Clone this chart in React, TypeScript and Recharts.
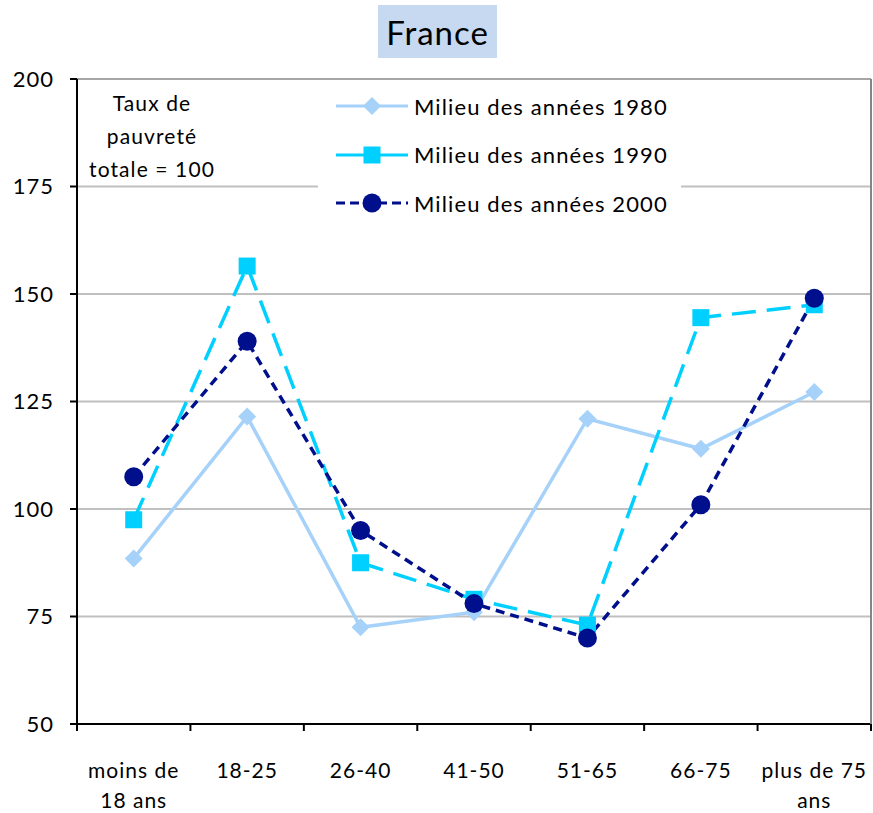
import React from "react";
import {
  CartesianGrid,
  Legend,
  Line,
  LineChart,
  ReferenceLine,
  XAxis,
  YAxis,
} from "recharts";

// valeurs (taux de pauvreté totale = 100)
const CATEGORIES = [
  "moins de 18 ans",
  "18-25",
  "26-40",
  "41-50",
  "51-65",
  "66-75",
  "plus de 75 ans",
];
const CATEGORY_LINES = [
  ["moins de", "18 ans"],
  ["18-25"],
  ["26-40"],
  ["41-50"],
  ["51-65"],
  ["66-75"],
  ["plus de 75", "ans"],
];
const S1980 = [88.5, 121.5, 72.5, 76, 121, 114, 127.2];
const S1990 = [97.5, 156.5, 87.5, 79, 73, 144.5, 147.5];
const S2000 = [107.5, 139, 95, 78, 70, 101, 149];
const Y_TICKS = [50, 75, 100, 125, 150, 175, 200];

const SERIES_NAMES = {
  s1980: "Milieu des années 1980",
  s1990: "Milieu des années 1990",
  s2000: "Milieu des années 2000",
};

const C1980 = "#a6d2fa";
const C1990 = "#00d0ff";
const C2000 = "#000f8c";
const FONT = "Lato, sans-serif";

const W = 873;
const H = 813;
const PLOT_LEFT = 77;
const PLOT_RIGHT = 871;
const AXIS_Y = 724;
const BAND = (PLOT_RIGHT - PLOT_LEFT) / CATEGORIES.length;

const data = CATEGORIES.map((c, i) => ({
  cat: c,
  s1980: S1980[i],
  s1990: S1990[i],
  s2000: S2000[i],
}));

const Diamond = (props: any) => {
  const { cx, cy, fill } = props;
  if (cx == null || cy == null) return null;
  const r = 9;
  return (
    <path
      d={`M${cx},${cy - r} L${cx + r},${cy} L${cx},${cy + r} L${cx - r},${cy} Z`}
      fill={fill}
    />
  );
};

const Square = (props: any) => {
  const { cx, cy, fill } = props;
  if (cx == null || cy == null) return null;
  const s = 8.5;
  return <rect x={cx - s} y={cy - s} width={s * 2} height={s * 2} fill={fill} />;
};

const Circle = (props: any) => {
  const { cx, cy, fill } = props;
  if (cx == null || cy == null) return null;
  return <circle cx={cx} cy={cy} r={9.5} fill={fill} />;
};

const XTick = (props: any) => {
  const { x, index } = props;
  const lines = CATEGORY_LINES[index] || [];
  const left = x - BAND / 2;
  return (
    <g>
      <line x1={left} x2={left} y1={AXIS_Y} y2={AXIS_Y + 7} stroke="#000" strokeWidth={2} />
      {index === CATEGORIES.length - 1 && (
        <line
          x1={x + BAND / 2}
          x2={x + BAND / 2}
          y1={AXIS_Y}
          y2={AXIS_Y + 7}
          stroke="#000"
          strokeWidth={2}
        />
      )}
      <text
        x={x}
        y={AXIS_Y + 54}
        textAnchor="middle"
        fontSize={21}
        fontFamily={FONT}
        letterSpacing={1}
        fill="#000"
      >
        {lines.map((l, i) => (
          <tspan key={i} x={x} dy={i === 0 ? 0 : 30}>
            {l}
          </tspan>
        ))}
      </text>
    </g>
  );
};

const LegendIcon = ({ kind }: { kind: string }) => {
  const w = 72;
  const cy = 12;
  const cx = w / 2;
  if (kind === "s1980") {
    return (
      <svg width={w} height={24}>
        <line x1={0} x2={w} y1={cy} y2={cy} stroke={C1980} strokeWidth={3} />
        <Diamond cx={cx} cy={cy} fill={C1980} />
      </svg>
    );
  }
  if (kind === "s1990") {
    return (
      <svg width={w} height={24}>
        <line x1={0} x2={w} y1={cy} y2={cy} stroke={C1990} strokeWidth={3} />
        <Square cx={cx} cy={cy} fill={C1990} />
      </svg>
    );
  }
  return (
    <svg width={w} height={24}>
      <line
        x1={0}
        x2={w}
        y1={cy}
        y2={cy}
        stroke={C2000}
        strokeWidth={3}
        strokeDasharray="9 5"
      />
      <Circle cx={cx} cy={cy} fill={C2000} />
    </svg>
  );
};

const LegendBox = () => (
  <div
    style={{
      background: "#fff",
      width: 363,
      height: 136,
      boxSizing: "border-box",
      paddingTop: 0,
      paddingLeft: 18,
    }}
  >
    {(["s1980", "s1990", "s2000"] as const).map((k) => (
      <div
        key={k}
        style={{ display: "flex", alignItems: "center", height: 48.5 }}
      >
        <LegendIcon kind={k} />
        <span
          style={{
            marginLeft: 6,
            fontFamily: FONT,
            fontSize: 22,
            letterSpacing: 1.1,
            color: "#000",
          }}
        >
          {SERIES_NAMES[k]}
        </span>
      </div>
    ))}
  </div>
);

export default function App() {
  return (
    <div
      style={{
        position: "absolute",
        left: 0,
        top: 0,
        width: W,
        height: H,
        background: "#fff",
        fontFamily: FONT,
      }}
    >
      <div
        style={{
          position: "absolute",
          left: 378,
          top: 5,
          width: 119,
          height: 53,
          background: "#c6d9f0",
          display: "flex",
          alignItems: "center",
          justifyContent: "center",
          fontSize: 33,
          letterSpacing: 1,
          color: "#000",
        }}
      >
        France
      </div>
      <LineChart
        width={W}
        height={H}
        data={data}
        margin={{ top: 79, right: 0, bottom: 0, left: 0 }}
      >
        <CartesianGrid vertical={false} stroke="#c0c0c0" strokeWidth={2} />
        <ReferenceLine y={200} stroke="#a6a6a6" strokeWidth={2} />
        <XAxis
          dataKey="cat"
          height={H - AXIS_Y}
          padding={{ left: BAND / 2, right: BAND / 2 }}
          axisLine={{ stroke: "#000", strokeWidth: 2 }}
          tickLine={false}
          tick={<XTick />}
          interval={0}
        />
        <YAxis
          domain={[50, 200]}
          ticks={Y_TICKS}
          width={PLOT_LEFT}
          axisLine={{ stroke: "#000", strokeWidth: 2 }}
          tickLine={{ stroke: "#000", strokeWidth: 2 }}
          tickSize={7}
          tickMargin={16}
          tick={{ fontSize: 22, fill: "#000", fontFamily: FONT, letterSpacing: 1 }}
        />
        <YAxis
          yAxisId="right"
          orientation="right"
          width={W - PLOT_RIGHT}
          axisLine={{ stroke: "#868686", strokeWidth: 2 }}
          tick={false}
          tickLine={false}
        />
        <Legend
          layout="vertical"
          align="center"
          verticalAlign="middle"
          content={<LegendBox />}
          wrapperStyle={{ left: 318, top: 82, width: 363, height: 136 }}
        />
        <Line
          dataKey="s1980"
          name={SERIES_NAMES.s1980}
          stroke={C1980}
          strokeWidth={3.5}
          dot={<Diamond fill={C1980} />}
          activeDot={false}
          isAnimationActive={false}
        />
        <Line
          dataKey="s1990"
          name={SERIES_NAMES.s1990}
          stroke={C1990}
          strokeWidth={3.5}
          strokeDasharray="24 11"
          dot={<Square fill={C1990} />}
          activeDot={false}
          isAnimationActive={false}
        />
        <Line
          dataKey="s2000"
          name={SERIES_NAMES.s2000}
          stroke={C2000}
          strokeWidth={3.5}
          strokeDasharray="9 6"
          dot={<Circle fill={C2000} />}
          activeDot={false}
          isAnimationActive={false}
        />
      </LineChart>
      <div
        style={{
          position: "absolute",
          left: 78,
          top: 86,
          width: 148,
          textAlign: "center",
          fontSize: 21,
          lineHeight: "33px",
          letterSpacing: 1.1,
          color: "#000",
        }}
      >
        Taux de
        <br />
        pauvreté
        <br />
        totale = 100
      </div>
    </div>
  );
}
